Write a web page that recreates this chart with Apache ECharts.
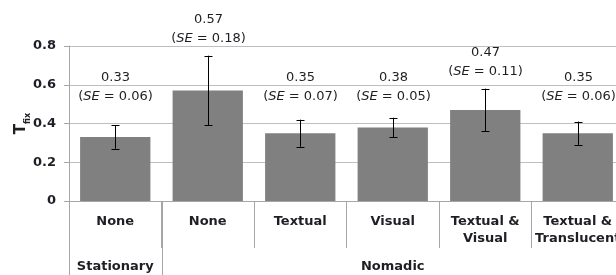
<!DOCTYPE html>
<html><head><meta charset="utf-8">
<script src="https://cdn.jsdelivr.net/npm/echarts@6/dist/echarts.min.js"></script>
<style>html,body{margin:0;padding:0;background:#fff}#c{width:616px;height:275px}</style>
</head><body><div id="c"></div>
<script>
// ---- data ----
const categories = ['None', 'None', 'Textual', 'Visual', 'Textual &\nVisual', 'Textual &\nTranslucent'];
const groups = ['Stationary', 'Nomadic'];
const groupSpans = [1, 5];
const means = [0.33, 0.57, 0.35, 0.38, 0.47, 0.35];
const ses = [0.06, 0.18, 0.07, 0.05, 0.11, 0.06];
const yTickLabels = ['0', '0.2', '0.4', '0.6', '0.8'];
const yAxisTitle = ['T', 'fix'];

// ---- chart ----
const FONT = '"DejaVu Sans", Verdana, sans-serif';
const TXT = '#1e1e24';
const chart = echarts.init(document.getElementById('c'), null, {renderer: 'canvas'});

const option = {
  animation: false,
  backgroundColor: '#fff',
  grid: {left: 69, right: -8, top: 46, bottom: 74, containLabel: false, outerBoundsMode: 'none'},
  xAxis: {
    type: 'category',
    data: categories,
    boundaryGap: true,
    axisLine: {show: true, lineStyle: {color: '#a6a6a6', width: 1}},
    axisTick: {show: true, interval: 0, length: 47, lineStyle: {color: '#a6a6a6', width: 1}},
    axisLabel: {
      interval: 0, margin: 12, color: TXT, fontFamily: FONT, fontWeight: 'bold',
      fontSize: 13, lineHeight: 17
    },
    splitLine: {show: false}
  },
  yAxis: {
    type: 'value', min: 0, max: 0.8, interval: 0.2,
    name: '{t|' + yAxisTitle[0] + '}{s|' + yAxisTitle[1] + '}',
    nameLocation: 'middle', nameRotate: 90, nameGap: 40, nameMoveOverlap: false,
    nameTextStyle: {
      rich: {
        t: {fontFamily: FONT, fontWeight: 'bold', fontSize: 15, color: TXT, verticalAlign: 'bottom', lineHeight: 16},
        s: {fontFamily: FONT, fontWeight: 'bold', fontSize: 8, color: TXT, verticalAlign: 'bottom', lineHeight: 10, padding: [0, 0, -3, 0]}
      }
    },
    axisLine: {show: true, lineStyle: {color: '#a6a6a6', width: 1}},
    axisTick: {show: true, length: 5, lineStyle: {color: '#a6a6a6', width: 1}},
    axisLabel: {
      margin: 13, color: TXT, fontFamily: FONT, fontWeight: 'bold', fontSize: 13,
      formatter: function (v) { return yTickLabels[Math.round(v / 0.2)]; }
    },
    splitLine: {show: true, lineStyle: {color: '#bfbfbf', width: 1}}
  },
  series: [
    {
      type: 'bar',
      data: means,
      barWidth: '76%',
      itemStyle: {color: '#808080'},
      silent: true
    },
    {
      type: 'custom',
      clip: false,
      silent: true,
      z: 5,
      data: means.map(function (m, i) { return [i, m, ses[i]]; }),
      renderItem: function (params, api) {
        const i = api.value(0), m = api.value(1), se = api.value(2);
        const top = api.coord([i, m + se]);
        const bot = api.coord([i, m - se]);
        const x = Math.round(top[0]) + 0.5;
        const cap = 4;
        const anchor = api.coord([i, Math.max(0.59, m + se + 0.135)]);
        return {
          type: 'group',
          children: [
            {type: 'line', shape: {x1: x, y1: top[1], x2: x, y2: bot[1]}, style: {stroke: '#000', lineWidth: 1}},
            {type: 'line', shape: {x1: x - cap, y1: Math.round(top[1]) + 0.5, x2: x + cap, y2: Math.round(top[1]) + 0.5}, style: {stroke: '#000', lineWidth: 1}},
            {type: 'line', shape: {x1: x - cap, y1: Math.round(bot[1]) + 0.5, x2: x + cap, y2: Math.round(bot[1]) + 0.5}, style: {stroke: '#000', lineWidth: 1}},
            {
              type: 'text', x: x, y: anchor[1],
              style: {
                text: '{n|' + m.toFixed(2) + '}\n{n|(}{i|SE}{n| = ' + se.toFixed(2) + ')}',
                align: 'center', verticalAlign: 'middle',
                fontFamily: FONT, fontSize: 13, fill: TXT,
                rich: {
                  n: {fontFamily: FONT, fontSize: 13, color: TXT, lineHeight: 19},
                  i: {fontFamily: FONT, fontSize: 13, color: TXT, fontStyle: 'italic', lineHeight: 19}
                }
              }
            }
          ]
        };
      }
    }
  ]
};
chart.setOption(option);

// group separators and group labels, positioned through the axis scale
const c0 = chart.convertToPixel({xAxisIndex: 0}, 0);
const c1 = chart.convertToPixel({xAxisIndex: 0}, 1);
const band = c1 - c0;
const axisY = chart.convertToPixel({yAxisIndex: 0}, 0);
const graphics = [];
let start = 0;
for (let g = 0; g < groups.length; g++) {
  const left = c0 - band / 2 + start * band;
  const right = left + groupSpans[g] * band;
  const lx = Math.round(left) + 0.5;
  graphics.push({type: 'line', shape: {x1: lx, y1: axisY, x2: lx, y2: 275}, style: {stroke: '#a6a6a6', lineWidth: 1}, silent: true});
  graphics.push({
    type: 'text', x: (left + right) / 2, y: axisY + 66,
    style: {text: groups[g], align: 'center', verticalAlign: 'middle', fontFamily: FONT, fontWeight: 'bold', fontSize: 13, fill: TXT},
    silent: true
  });
  start += groupSpans[g];
}
chart.setOption({graphic: graphics});
</script>
</body></html>
